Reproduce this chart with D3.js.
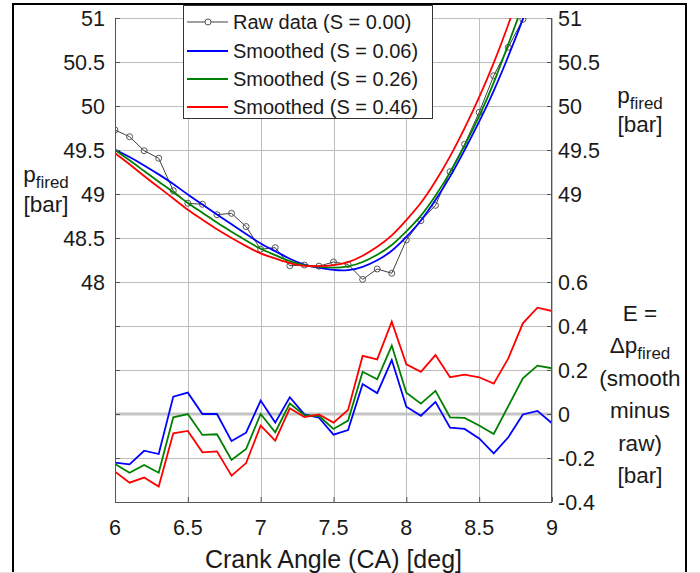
<!DOCTYPE html>
<html>
<head>
<meta charset="utf-8">
<script src="https://d3js.org/d3.v7.min.js"></script>
<style>
    body { margin: 0; background: #fff; }
    text { font-family: "Liberation Sans", Arial, Helvetica, sans-serif; fill: #1a1a1a; }
</style>
</head>
<body>
<div id="graph"></div>
<script>
// Crank angle samples (deg)
let crank_angle = [6.0, 6.1, 6.2, 6.3, 6.4, 6.5, 6.6, 6.7, 6.8, 6.9, 7.0, 7.1, 7.2, 7.3, 7.4, 7.5,
    7.6, 7.7, 7.8, 7.9, 8.0, 8.1, 8.2, 8.3, 8.4, 8.5, 8.6, 8.7, 8.8, 8.9, 9.0];

// p_fired [bar], raw and the three smoothed versions
let p_raw = [49.727, 49.651, 49.492, 49.406, 49.038, 48.894, 48.883, 48.765, 48.780, 48.630, 48.372,
    48.390, 48.185, 48.193, 48.180, 48.227, 48.200, 48.030, 48.148, 48.099, 48.477, 48.697, 48.871,
    49.253, 49.565, 49.928, 50.344, 50.667, 50.985, 51.42, 51.94];
let p_s006 = [49.506, 49.422, 49.325, 49.224, 49.117, 48.991, 48.883, 48.765, 48.657, 48.545, 48.433,
    48.351, 48.261, 48.191, 48.163, 48.133, 48.127, 48.166, 48.243, 48.344, 48.510, 48.689, 48.926,
    49.191, 49.497, 49.817, 50.165, 50.561, 50.983, 51.434, 51.898];
let p_s026 = [49.500, 49.384, 49.260, 49.139, 49.023, 48.894, 48.788, 48.673, 48.571, 48.471, 48.372,
    48.307, 48.233, 48.188, 48.171, 48.159, 48.170, 48.222, 48.306, 48.410, 48.574, 48.744, 48.976,
    49.238, 49.547, 49.876, 50.253, 50.703, 51.147, 51.64, 52.148];
let p_s046 = [49.465, 49.339, 49.203, 49.076, 48.950, 48.817, 48.709, 48.595, 48.500, 48.407, 48.319,
    48.269, 48.211, 48.179, 48.178, 48.188, 48.218, 48.294, 48.396, 48.519, 48.703, 48.889, 49.139,
    49.420, 49.744, 50.095, 50.482, 50.920, 51.397, 51.903, 52.408];

// E = smooth minus raw [bar]
let e_s006 = [-0.221, -0.229, -0.167, -0.182, 0.079, 0.097, 0.000, 0.000, -0.123, -0.085, 0.061,
    -0.039, 0.076, -0.002, -0.017, -0.094, -0.073, 0.136, 0.095, 0.245, 0.033, -0.008, 0.055,
    -0.062, -0.068, -0.111, -0.179, -0.106, -0.002, 0.014, -0.042];
let e_s026 = [-0.227, -0.267, -0.232, -0.267, -0.015, 0.000, -0.095, -0.092, -0.209, -0.159, 0.000,
    -0.083, 0.048, -0.005, -0.009, -0.068, -0.030, 0.192, 0.158, 0.311, 0.097, 0.047, 0.105,
    -0.015, -0.018, -0.052, -0.091, 0.036, 0.162, 0.220, 0.208];
let e_s046 = [-0.262, -0.312, -0.289, -0.330, -0.088, -0.077, -0.174, -0.170, -0.280, -0.223, -0.053,
    -0.121, 0.026, -0.014, -0.002, -0.039, 0.018, 0.264, 0.248, 0.420, 0.226, 0.192, 0.268,
    0.167, 0.179, 0.167, 0.138, 0.253, 0.412, 0.483, 0.468];

let legend_labels = ["Raw data (S = 0.00)", "Smoothed (S = 0.06)", "Smoothed (S = 0.26)", "Smoothed (S = 0.46)"];
let x_ticks = [6, 6.5, 7, 7.5, 8, 8.5, 9];
let p_left_ticks = [48, 48.5, 49, 49.5, 50, 50.5, 51];
let p_right_ticks = [49, 49.5, 50, 50.5, 51];
let e_ticks = [-0.4, -0.2, 0, 0.2, 0.4, 0.6];
let grid_p = d3.range(45.5, 51.01, 0.5);

let width = 700, height = 573;
let plot = {left: 115, right: 552, top: 18, bottom: 502};
let colors = ["#404040", "#0000ff", "#008000", "#ff0000"];

let svg = d3.select("#graph")
    .append("svg")
    .attr("width", width)
    .attr("height", height);

// outer frame (bottom edge runs off the picture)
svg.append("rect")
    .attr("x", 13).attr("y", 4)
    .attr("width", 673).attr("height", 600)
    .attr("fill", "none")
    .attr("stroke", "#000")
    .attr("stroke-width", 2);
svg.append("line")
    .attr("x1", 0).attr("x2", width)
    .attr("y1", 572.5).attr("y2", 572.5)
    .attr("stroke", "#e4e4e4");

let x = d3.scaleLinear().domain([6, 9]).range([plot.left, plot.right]);
let yP = d3.scaleLinear().domain([45.5, 51]).range([plot.bottom, plot.top]);
let yE = d3.scaleLinear().domain([-0.4, 1.8]).range([plot.bottom, plot.top]);

// grid
let grid = svg.append("g");
grid.selectAll(".gx")
    .data(x_ticks)
    .enter()
    .append("line")
    .attr("x1", d => Math.round(x(d)) + 0.5).attr("x2", d => Math.round(x(d)) + 0.5)
    .attr("y1", plot.top).attr("y2", plot.bottom)
    .attr("stroke", "#bdbdbd");
grid.selectAll(".gy")
    .data(grid_p)
    .enter()
    .append("line")
    .attr("x1", plot.left).attr("x2", plot.right)
    .attr("y1", d => Math.round(yP(d)) + 0.5).attr("y2", d => Math.round(yP(d)) + 0.5)
    .attr("stroke", "#bdbdbd");

// zero line for E
svg.append("line")
    .attr("x1", plot.left).attr("x2", plot.right)
    .attr("y1", yE(0)).attr("y2", yE(0))
    .attr("stroke", "#c4c4c4")
    .attr("stroke-width", 3);

svg.append("clipPath").attr("id", "clip")
    .append("rect")
    .attr("x", plot.left).attr("y", plot.top)
    .attr("width", plot.right - plot.left).attr("height", plot.bottom - plot.top);

let lines = svg.append("g").attr("clip-path", "url(#clip)");

let rawLine = d3.line()
    .x((d, i) => x(crank_angle[i]))
    .y(d => yP(d));
// basis curve irons out the small reading wobbles in the smoothed series
let smoothLine = d3.line()
    .x((d, i) => x(crank_angle[i]))
    .y(d => yP(d))
    .curve(d3.curveBasis);
let eLine = d3.line()
    .x((d, i) => x(crank_angle[i]))
    .y(d => yE(d));

lines.append("path")
    .attr("d", rawLine(p_raw))
    .attr("fill", "none")
    .attr("stroke", colors[0])
    .attr("stroke-width", 1);
lines.selectAll(".rawpt")
    .data(p_raw)
    .enter()
    .append("circle")
    .attr("cx", (d, i) => x(crank_angle[i]))
    .attr("cy", d => yP(d))
    .attr("r", 3)
    .attr("fill", "none")
    .attr("stroke", "#555")
    .attr("stroke-width", 1);

let smoothed = [p_s006, p_s026, p_s046];
let errors = [e_s006, e_s026, e_s046];
smoothed.forEach(function (s, k) {
    lines.append("path")
        .attr("d", smoothLine(s))
        .attr("fill", "none")
        .attr("stroke", colors[k + 1])
        .attr("stroke-width", 1.8);
});
errors.forEach(function (e, k) {
    lines.append("path")
        .attr("d", eLine(e))
        .attr("fill", "none")
        .attr("stroke", colors[k + 1])
        .attr("stroke-width", 1.8);
});

// axes - inward ticks, matlab style
let axisColor = "#555";
let leftAxis = svg.append("g").attr("transform", `translate(${plot.left},0)`)
    .call(d3.axisRight(yP).tickValues(grid_p).tickSize(5).tickFormat(""));
let rightAxis = svg.append("g").attr("transform", `translate(${plot.right},0)`)
    .call(d3.axisLeft(yP).tickValues(grid_p).tickSize(5).tickFormat(""));
let bottomAxis = svg.append("g").attr("transform", `translate(0,${plot.bottom})`)
    .call(d3.axisTop(x).tickValues(x_ticks).tickSize(5).tickFormat(""));
[leftAxis, rightAxis, bottomAxis].forEach(function (a) {
    a.select(".domain").attr("stroke", axisColor);
    a.selectAll(".tick line").attr("stroke", axisColor);
});
// d3 axes draw the outer ticks on the domain path - trim them off
leftAxis.select(".domain").attr("d", `M0.5,${plot.top}V${plot.bottom}`);
rightAxis.select(".domain").attr("d", `M-0.5,${plot.top}V${plot.bottom}`);
bottomAxis.select(".domain").attr("d", `M${plot.left},0.5H${plot.right}`);

let tickFont = 21.5;
let fmt = d => String(d);

svg.selectAll(".lt")
    .data(p_left_ticks)
    .enter()
    .append("text")
    .attr("x", 105)
    .attr("y", d => yP(d) + 7.5)
    .attr("text-anchor", "end")
    .style("font-size", tickFont + "px")
    .text(fmt);
svg.selectAll(".rt")
    .data(p_right_ticks)
    .enter()
    .append("text")
    .attr("x", 558)
    .attr("y", d => yP(d) + 7.5)
    .style("font-size", tickFont + "px")
    .text(fmt);
svg.selectAll(".et")
    .data(e_ticks)
    .enter()
    .append("text")
    .attr("x", 558)
    .attr("y", d => yE(d) + 7.5)
    .style("font-size", tickFont + "px")
    .text(fmt);
svg.selectAll(".xt")
    .data(x_ticks)
    .enter()
    .append("text")
    .attr("x", d => x(d))
    .attr("y", 535)
    .attr("text-anchor", "middle")
    .style("font-size", tickFont + "px")
    .text(fmt);

// axis labels
svg.append("text")
    .attr("x", (plot.left + plot.right) / 2)
    .attr("y", 568)
    .attr("text-anchor", "middle")
    .style("font-size", "25px")
    .text("Crank Angle (CA) [deg]");

let labelFont = 22.5;
function multiLabel(cx, baselines, rows) {
    rows.forEach(function (row, i) {
        let t = svg.append("text")
            .attr("x", cx)
            .attr("y", baselines[i])
            .attr("text-anchor", "middle")
            .style("font-size", labelFont + "px");
        row.forEach(function (part) {
            let ts = t.append("tspan").text(part.s);
            if (part.sub) {
                ts.style("font-size", "17px").attr("dy", 6);
            }
        });
    });
}
multiLabel(46, [182, 212], [[{s: "p"}, {s: "fired", sub: true}], [{s: "[bar]"}]]);
multiLabel(640, [103, 132], [[{s: "p"}, {s: "fired", sub: true}], [{s: "[bar]"}]]);
multiLabel(640, [321, 353, 386, 418, 451, 483], [
    [{s: "E ="}],
    [{s: "\u0394p"}, {s: "fired", sub: true}],
    [{s: "(smooth"}],
    [{s: "minus"}],
    [{s: "raw)"}],
    [{s: "[bar]"}]
]);

// legend
let legend = svg.append("g");
legend.append("rect")
    .attr("x", 183.5).attr("y", 5.5)
    .attr("width", 249).attr("height", 113)
    .attr("fill", "#fff")
    .attr("stroke", "#333");
let rowY = [22, 51, 79, 107];
legend_labels.forEach(function (lab, i) {
    legend.append("line")
        .attr("x1", 187).attr("x2", 228)
        .attr("y1", rowY[i]).attr("y2", rowY[i])
        .attr("stroke", colors[i])
        .attr("stroke-width", i === 0 ? 1 : 1.8);
    if (i === 0) {
        legend.append("circle")
            .attr("cx", 208).attr("cy", rowY[i]).attr("r", 3)
            .attr("fill", "#fff").attr("stroke", "#555");
    }
    legend.append("text")
        .attr("x", 233)
        .attr("y", rowY[i] + 7)
        .style("font-size", "20px")
        .text(lab);
});
</script>
</body>
</html>
